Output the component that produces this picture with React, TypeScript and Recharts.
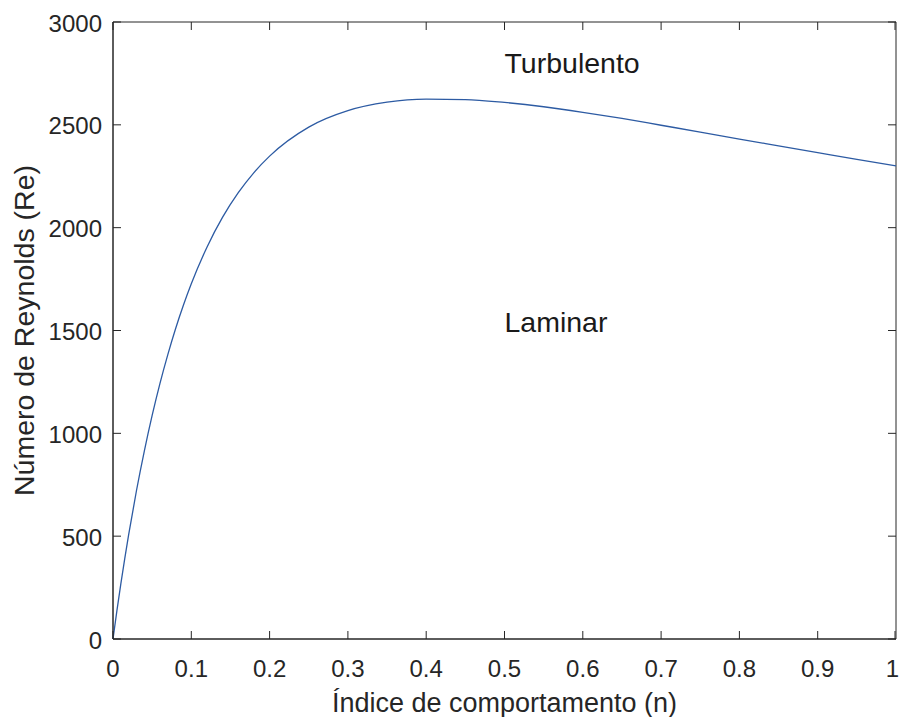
import { LineChart, Line, XAxis, YAxis, ReferenceDot, ReferenceArea } from 'recharts'

// índice de comportamento (n) vs número de Reynolds crítico
const nValues = [
  0, 0.005, 0.01, 0.015, 0.02, 0.03, 0.04, 0.05, 0.06, 0.07, 0.08, 0.09, 0.1, 0.12, 0.14, 0.16, 0.18, 0.2, 0.25,
  0.3, 0.35, 0.4, 0.45, 0.5, 0.55, 0.6, 0.65, 0.7, 0.75, 0.8, 0.85, 0.9, 0.95, 1,
]
const reValues = [
  0, 138, 268, 391, 507, 722, 914, 1087, 1243, 1383, 1510, 1624, 1727, 1905, 2051, 2170, 2268, 2348, 2489,
  2569, 2610, 2625, 2623, 2609, 2588, 2561, 2531, 2498, 2465, 2431, 2398, 2365, 2332, 2300,
]

const xTicks = [0, 0.1, 0.2, 0.3, 0.4, 0.5, 0.6, 0.7, 0.8, 0.9, 1]
const yTicks = [0, 500, 1000, 1500, 2000, 2500, 3000]

const xLabel = 'Índice de comportamento (n)'
const yLabel = 'Número de Reynolds (Re)'

const regionLabels = [
  { text: 'Turbulento', n: 0.5, re: 2800 },
  { text: 'Laminar', n: 0.5, re: 1540 },
]

const data = nValues.map((n, i) => ({ n, re: reValues[i] }))

const FONT = '"Liberation Sans", Arial, Helvetica, sans-serif'
const AXIS = '#262626'

// layout
const W = 899
const H = 717
const MARGIN = { top: 22, right: 3, bottom: 0, left: 0 }
const Y_AXIS_W = 113
const X_AXIS_H = 78
const PLOT_LEFT = MARGIN.left + Y_AXIS_W
const PLOT_RIGHT = W - MARGIN.right
const PLOT_TOP = MARGIN.top
const PLOT_BOTTOM = H - MARGIN.bottom - X_AXIS_H
const TICK_LEN = 8

// MATLAB-style ticks: pointing inwards, mirrored on the opposite side
function BottomTick({ x, payload, index, visibleTicksCount }: any) {
  // last label sits on the window edge, keep it inside
  const isLast = index === visibleTicksCount - 1
  return (
    <g>
      <line x1={x} x2={x} y1={PLOT_BOTTOM} y2={PLOT_BOTTOM - TICK_LEN} stroke={AXIS} />
      <line x1={x} x2={x} y1={PLOT_TOP} y2={PLOT_TOP + TICK_LEN} stroke={AXIS} />
      <text
        x={isLast ? W : x}
        y={PLOT_BOTTOM + 38}
        textAnchor={isLast ? 'end' : 'middle'}
        fill={AXIS}
        fontSize={24}
        fontFamily={FONT}
      >
        {payload.value}
      </text>
    </g>
  )
}

function LeftTick({ y, payload }: any) {
  return (
    <g>
      <line x1={PLOT_LEFT} x2={PLOT_LEFT + TICK_LEN} y1={y} y2={y} stroke={AXIS} />
      <line x1={PLOT_RIGHT} x2={PLOT_RIGHT - TICK_LEN} y1={y} y2={y} stroke={AXIS} />
      <text x={PLOT_LEFT - 11} y={y} dy="0.4em" textAnchor="end" fill={AXIS} fontSize={24} fontFamily={FONT}>
        {payload.value}
      </text>
    </g>
  )
}

export default function App() {
  return (
    <div style={{ position: 'fixed', left: 0, top: 0, width: W, height: H, background: '#fff' }}>
      <LineChart width={W} height={H} data={data} margin={MARGIN}>
        <ReferenceArea
          xAxisId="bottom"
          yAxisId="left"
          x1={0}
          x2={1}
          y1={0}
          y2={3000}
          fill="none"
          fillOpacity={0}
          stroke={AXIS}
          strokeWidth={1}
        />
        <XAxis
          xAxisId="bottom"
          dataKey="n"
          type="number"
          domain={[0, 1]}
          ticks={xTicks}
          height={X_AXIS_H}
          stroke={AXIS}
          tickLine={false}
          tickSize={0}
          tickMargin={0}
          tick={<BottomTick />}
          label={{ value: xLabel, position: 'bottom', offset: -24, fill: AXIS, fontSize: 27, fontFamily: FONT }}
        />
        <YAxis
          yAxisId="left"
          type="number"
          domain={[0, 3000]}
          ticks={yTicks}
          width={Y_AXIS_W}
          stroke={AXIS}
          tickLine={false}
          tickSize={0}
          tickMargin={0}
          tick={<LeftTick />}
          label={{
            content: ({ viewBox }: any) => {
              const cy = viewBox.y + viewBox.height / 2
              return (
                <text
                  x={34}
                  y={cy}
                  transform={`rotate(-90, 34, ${cy})`}
                  textAnchor="middle"
                  fill={AXIS}
                  fontSize={28.5}
                  fontFamily={FONT}
                >
                  {yLabel}
                </text>
              )
            },
          }}
        />
        <Line
          xAxisId="bottom"
          yAxisId="left"
          dataKey="re"
          type="monotone"
          stroke="#2d5ba3"
          strokeWidth={1.3}
          dot={false}
          isAnimationActive={false}
        />
        {regionLabels.map(l => (
          <ReferenceDot
            key={l.text}
            xAxisId="bottom"
            yAxisId="left"
            x={l.n}
            y={l.re}
            r={0}
            fill="none"
            stroke="none"
            label={{ value: l.text, position: 'right', offset: 0, fill: '#1a1a1a', fontSize: 28.5, fontFamily: FONT }}
          />
        ))}
      </LineChart>
    </div>
  )
}
